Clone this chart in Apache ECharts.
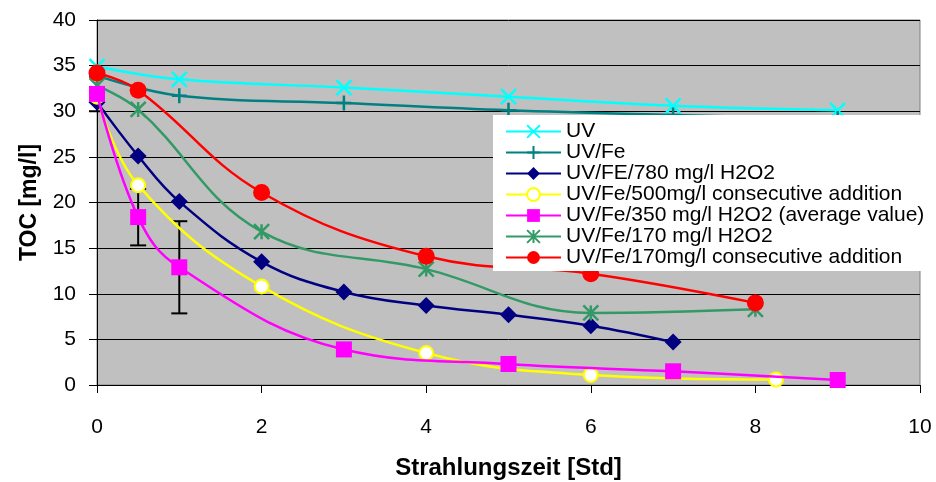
<!DOCTYPE html>
<html>
<head>
<meta charset="utf-8">
<script src="https://cdn.jsdelivr.net/npm/echarts@6/dist/echarts.min.js"></script>
<style>
  html, body { margin: 0; padding: 0; background: #fff; }
  #chart { width: 936px; height: 482px; }
</style>
</head>
<body>
<div id="chart"></div>
<script>
// Messwerte (Strahlungszeit [Std] / TOC [mg/l])
const uvX = [0, 1, 3, 5, 7, 9]
const uvY = [34.9, 33.5, 32.6, 31.6, 30.6, 30.1]

const uvFeX = [0, 1, 3, 5, 7, 9]
const uvFeY = [33.9, 31.7, 30.9, 30.1, 29.6, 29.2]

const fe780X = [0, 0.5, 1, 2, 3, 4, 5, 6, 7]
const fe780Y = [31.0, 25.1, 20.1, 13.5, 10.2, 8.7, 7.7, 6.5, 4.7]

const fe500X = [0, 0.5, 2, 4, 6, 8.25]
const fe500Y = [31.6, 21.9, 10.8, 3.5, 1.1, 0.6]

const fe350X = [0, 0.5, 1, 3, 5, 7, 9]
const fe350Y = [31.9, 18.4, 12.9, 3.9, 2.3, 1.5, 0.55]
const fe350Err = [1.9, 3.1, 5.05, 0, 0, 0, 0]

const fe170X = [0, 0.5, 2, 4, 6, 8]
const fe170Y = [32.8, 30.2, 16.8, 12.7, 7.9, 8.3]

const fe170cX = [0, 0.5, 2, 4, 6, 8]
const fe170cY = [34.2, 32.3, 21.1, 14.1, 12.2, 9.0]

const names = [
    'UV',
    'UV/Fe',
    'UV/FE/780 mg/l H2O2',
    'UV/Fe/500mg/l consecutive addition',
    'UV/Fe/350 mg/l H2O2 (average value)',
    'UV/Fe/170 mg/l H2O2',
    'UV/Fe/170mg/l consecutive addition',
]

const pairs = (xs, ys) => xs.map((x, i) => [x, ys[i]])

const crossPath = 'path://M0,0L10,10M10,0L0,10'
const plusPath = 'path://M5,0L5,10M0,5L10,5'
const starPath = 'path://M0,0L10,10M10,0L0,10M5,0L5,10'

const lineSeries = (name, data, color, symbol, size, extra) => Object.assign({
    name: name,
    type: 'line',
    data: data,
    smooth: 0.4,
    symbol: symbol,
    symbolSize: size,
    showAllSymbol: true,
    lineStyle: { color: color, width: 2.5 },
    itemStyle: { color: color, borderColor: color, borderWidth: 0 },
    z: 3,
}, extra || {})

const strokeStyle = (color) => ({ color: color, borderColor: color, borderWidth: 2.5 })

const errData = fe350X
    .map((x, i) => [x, fe350Y[i] - fe350Err[i], fe350Y[i] + fe350Err[i]])
    .filter((d, i) => fe350Err[i] > 0)

const myChart = echarts.init(document.getElementById('chart'))

const option = {
    backgroundColor: '#fff',
    animation: false,
    grid: {
        show: true,
        left: 97,
        right: 16,
        top: 20,
        bottom: 97,
        outerBoundsMode: 'none',
        containLabel: false,
        backgroundColor: '#C0C0C0',
        borderColor: '#808080',
        borderWidth: 1,
    },
    legend: {
        left: 493,
        top: 115,
        orient: 'vertical',
        backgroundColor: '#fff',
        padding: [6, 6, 3, 12],
        itemWidth: 55,
        itemHeight: 16,
        itemGap: 0,
        textStyle: { fontFamily: 'Liberation Sans', fontSize: 21, color: '#000' },
        data: names,
    },
    xAxis: {
        type: 'value',
        min: 0,
        max: 10,
        interval: 2,
        name: 'Strahlungszeit [Std]',
        nameLocation: 'middle',
        nameGap: 71,
        nameTextStyle: { fontFamily: 'Liberation Sans', fontSize: 24, fontWeight: 'bold', color: '#000' },
        axisLine: { lineStyle: { color: '#000', width: 1 } },
        axisTick: { show: true, length: 8, lineStyle: { color: '#000' } },
        axisLabel: { fontFamily: 'Liberation Sans', fontSize: 21, color: '#000', margin: 32 },
        splitLine: { show: false },
    },
    yAxis: {
        type: 'value',
        min: 0,
        max: 40,
        interval: 5,
        name: 'TOC [mg/l]',
        nameLocation: 'middle',
        nameGap: 56,
        nameTextStyle: { fontFamily: 'Liberation Sans', fontSize: 23, fontWeight: 'bold', color: '#000' },
        axisLine: { show: true, lineStyle: { color: '#000', width: 1 } },
        axisTick: { show: true, length: 8, lineStyle: { color: '#000' } },
        axisLabel: { fontFamily: 'Liberation Sans', fontSize: 21, color: '#000', margin: 21 },
        splitLine: { show: true, lineStyle: { color: '#000', width: 1 } },
    },
    series: [
        lineSeries(names[0], pairs(uvX, uvY), '#00FFFF', crossPath, 15, { itemStyle: strokeStyle('#00FFFF') }),
        lineSeries(names[1], pairs(uvFeX, uvFeY), '#008080', plusPath, 15, { itemStyle: strokeStyle('#008080') }),
        lineSeries(names[2], pairs(fe780X, fe780Y), '#000080', 'diamond', 17),
        lineSeries(names[3], pairs(fe500X, fe500Y), '#FFFF00', 'emptyCircle', 14, {
            itemStyle: { color: '#FFFF00', borderColor: '#FFFF00', borderWidth: 2.5 },
        }),
        lineSeries(names[4], pairs(fe350X, fe350Y), '#FF00FF', 'rect', 16, { z: 4 }),
        lineSeries(names[5], pairs(fe170X, fe170Y), '#339966', starPath, 15, { itemStyle: strokeStyle('#339966') }),
        lineSeries(names[6], pairs(fe170cX, fe170cY), '#FF0000', 'circle', 17),
        {
            name: 'error',
            type: 'custom',
            z: 3,
            data: errData,
            renderItem: (params, api) => {
                const x = api.value(0)
                const lo = api.coord([x, api.value(1)])
                const hi = api.coord([x, api.value(2)])
                const w = 8
                const style = { stroke: '#000', lineWidth: 2 }
                return {
                    type: 'group',
                    children: [
                        { type: 'line', shape: { x1: lo[0], y1: lo[1], x2: hi[0], y2: hi[1] }, style: style },
                        { type: 'line', shape: { x1: lo[0] - w, y1: lo[1], x2: lo[0] + w, y2: lo[1] }, style: style },
                        { type: 'line', shape: { x1: hi[0] - w, y1: hi[1], x2: hi[0] + w, y2: hi[1] }, style: style },
                    ],
                }
            },
        },
    ],
}

option && myChart.setOption(option)
</script>
</body>
</html>
